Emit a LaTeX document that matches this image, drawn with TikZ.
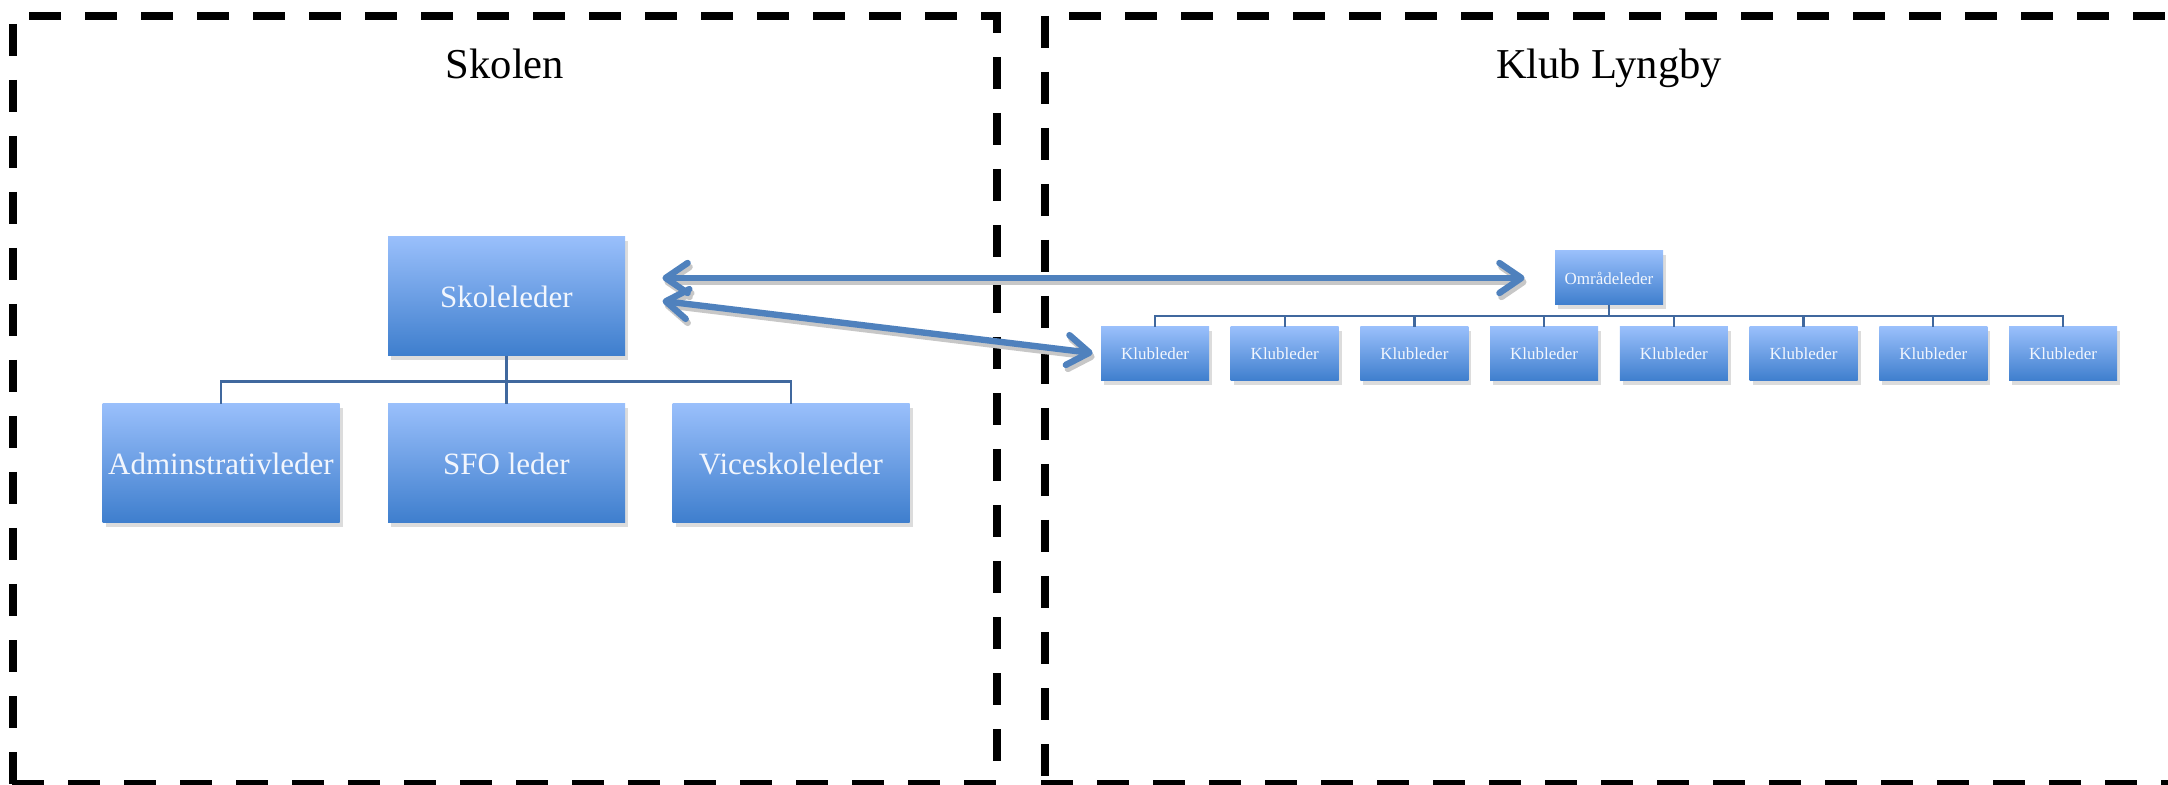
\documentclass[tikz,border=0pt]{standalone}
\usepackage{fontspec}
\setmainfont{Liberation Serif}
\usetikzlibrary{arrows.meta,shadows,calc}
\definecolor{boxtop}{RGB}{153,191,251}
\definecolor{boxbot}{RGB}{62,126,205}
\definecolor{boxtext}{RGB}{242,246,253}
\definecolor{conn}{RGB}{64,104,158}
\definecolor{arrblue}{RGB}{79,129,189}
\begin{document}
\begin{tikzpicture}[x=0.5pt,y=-0.5pt,
  boxbase/.style={rectangle, inner sep=0pt, top color=boxtop, bottom color=boxbot, text=boxtext,
    drop shadow={shadow xshift=1.5pt, shadow yshift=-2pt, opacity=0.28}},
  bigbox/.style={boxbase, minimum width=118.5pt, minimum height=59.5pt, font=\fontsize{15.5}{18}\selectfont},
  smallbox/.style={boxbase, minimum width=54pt, minimum height=27pt, font=\fontsize{8.5}{10}\selectfont},
  title/.style={font=\fontsize{21.3}{25}\selectfont, anchor=base, inner sep=0pt},
  org/.style={draw=conn, line width=1.1pt},
  border/.style={draw=black, line width=4pt, dash pattern=on 16pt off 12pt},
  twoway/.style={line width=3.2pt, {Straight Barb[length=11pt,width=15pt,round]}-{Straight Barb[length=11pt,width=15pt,round]}},
  arrmain/.style={twoway, draw=arrblue},
  arrshadow/.style={twoway, draw=black!22, transform canvas={shift={(1pt,-2pt)}}}
]
\useasboundingbox (0,0) rectangle (2168,785);

% dashed frames
\draw[border] (29,16) -- (1001,16);
\draw[border] (13,24) -- (13,788);
\draw[border, dash phase=5.5pt] (997,12) -- (997,788);
\draw[border] (12,784) -- (1001,784);
\draw[border] (1045,16) -- (1045,788);
\draw[border] (1069,16) -- (2168,16);
\draw[border] (1041,784) -- (2168,784);

% titles
\node[title] (t1) at (505,79) {Skolen};
\node[title] (t2) at (1609,79) {Klub Lyngby};

% school hierarchy
\node[bigbox] (sk) at (506.5,296.5) {Skoleleder};
\node[bigbox] (adm) at (221,463.5) {Adminstrativleder};
\node[bigbox] (sfo) at (506.5,463.5) {SFO leder};
\node[bigbox] (vice) at (791,463.5) {Viceskoleleder};
\coordinate (skj) at (506.5,381.5);
\draw[org] (sk.south) -- (sfo.north);
\draw[org] (adm.north) -- (adm.north |- skj) -- (vice.north |- skj) -- (vice.north);

% club hierarchy
\node[smallbox] (om) at (1609,278) {Områdeleder};
\foreach \i in {0,...,7}{
  \node[smallbox] (k\i) at ({1155+129.714*\i},354) {Klubleder};
}
\coordinate (omj) at (1609,316);
\draw[org] (om.south) -- (omj);
\draw[org] (k0.north) -- (k0.north |- omj) -- (k7.north |- omj) -- (k7.north);
\foreach \i in {1,...,6}{
  \draw[org] (k\i.north) -- (k\i.north |- omj);
}

% arrows
\draw[arrshadow, shorten <=18.5pt, shorten >=15pt] (sk.east |- om.west) -- (om.west);
\draw[arrshadow, shorten <=18.7pt, shorten >=4pt] (sk.east) -- (k0.west);
\draw[arrmain, shorten <=18.5pt, shorten >=15pt] (sk.east |- om.west) -- (om.west);
\draw[arrmain, shorten <=18.7pt, shorten >=4pt] (sk.east) -- (k0.west);
\end{tikzpicture}
\end{document}
